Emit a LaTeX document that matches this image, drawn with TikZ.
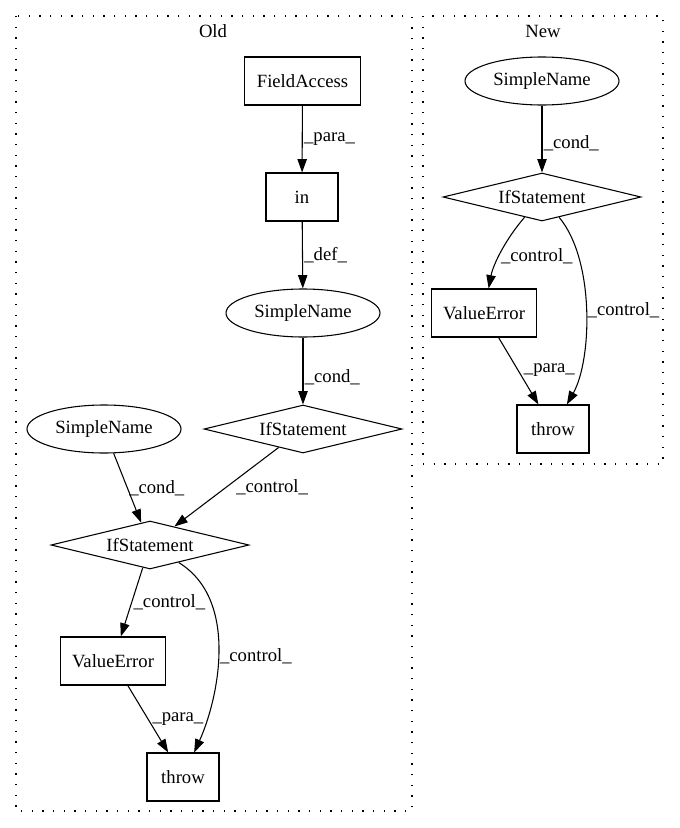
\documentclass[tikz,border=0pt]{standalone}
\usepackage{fontspec}
\setmainfont{Liberation Serif}
\usetikzlibrary{shapes.geometric,arrows.meta}

\tikzset{
  txt/.style={font=\fontsize{14pt}{16pt}\selectfont},
  box/.style={txt, draw, rectangle, line width=0.8pt, minimum width=54pt, minimum height=36pt, inner xsep=9pt},
  oval/.style={txt, draw, ellipse, line width=0.8pt, minimum width=115.5pt, minimum height=36pt, inner sep=0pt},
  cond/.style={txt, draw, diamond, aspect=4, line width=0.8pt, minimum width=148.5pt, minimum height=36pt, inner sep=0pt},
  flow/.style={-{Triangle[length=10pt,width=7pt]}, line width=0.8pt},
  lbl/.style={txt, inner sep=1pt, anchor=west},
  cluster/.style={dash pattern=on 1pt off 7pt, line width=0.8pt}
}

\begin{document}
\begin{tikzpicture}[x=0.75pt,y=0.75pt,yscale=-1,xscale=1]
\useasboundingbox (0,0) rectangle (679,828);

%Clusters
\draw [cluster] (16,16) rectangle (412,811) ;
\draw [cluster] (423,16) rectangle (663,464) ;
\node [txt] (oldname) at (213,31) {Old};
\node [txt] (newname) at (543,31) {New};

% Old nodes
\node [box] (fa) at (302.5,81) {FieldAccess};
\node [box] (in) at (302,197) {in};
\node [oval] (sn) at (303,313) {SimpleName};
\node [cond] (ifa) at (303,429) {IfStatement};
\node [oval] (snb) at (104,429) {SimpleName};
\node [cond] (ifb) at (150,545) {IfStatement};
\node [box] (ve) at (113,661) {ValueError};
\node [box] (th) at (183,777) {throw};

% New nodes
\node [oval] (nsn) at (542,81) {SimpleName};
\node [cond] (nif) at (542,197) {IfStatement};
\node [box] (nve) at (484,313) {ValueError};
\node [box] (nth) at (553,429) {throw};

%Straight Lines
\draw [flow] (fa) -- (in) node [lbl, pos=0.5] {\_para\_};
\draw [flow] (in) -- (sn) node [lbl, pos=0.5] {\_def\_};
\draw [flow] (sn) -- (ifa) node [lbl, pos=0.6] {\_cond\_};
\draw [flow] (snb) -- (ifb) node [lbl, pos=0.5] {\_cond\_};
\draw [flow] (ifa) -- (ifb) node [lbl, pos=0.5, xshift=6pt] {\_control\_};
\draw [flow] (ifb) -- (ve) node [lbl, pos=0.5] {\_control\_};
\draw [flow] (ve) -- (th) node [lbl, pos=0.5, xshift=2pt] {\_para\_};
%Curve Lines
\draw [flow] (ifb) .. controls (240,600) and (218,700) .. (th) node [lbl, pos=0.52] {\_control\_};

%Straight Lines
\draw [flow] (nsn) -- (nif) node [lbl, pos=0.57] {\_cond\_};
\draw [flow] (nve) -- (nth) node [lbl, pos=0.49, xshift=3pt] {\_para\_};
%Curve Lines
\draw [flow] (nif) .. controls (505,240) and (493,265) .. (nve) node [lbl, pos=0.55] {\_control\_};
\draw [flow] (nif) .. controls (595,260) and (592,360) .. (nth) node [lbl, pos=0.5] {\_control\_};

\end{tikzpicture}
\end{document}
